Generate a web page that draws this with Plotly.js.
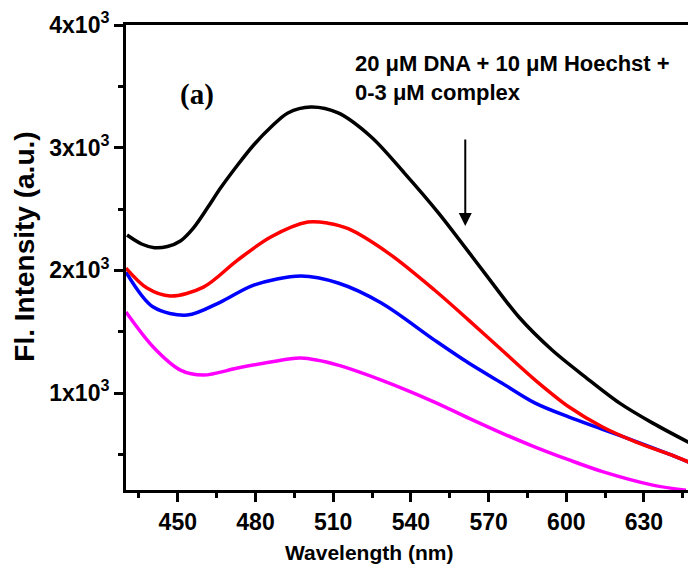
<!DOCTYPE html>
<html>
<head>
<meta charset="utf-8">
<script src="https://cdn.plot.ly/plotly-3.0.1.min.js"></script>
<style>
html,body{margin:0;padding:0;background:#fff;}
#chart{width:691px;height:569px;}
</style>
</head>
<body>
<div id="chart"></div>
<script>
// Wavelength (nm) and intensity values
const blackX = [430.4, 436, 441, 446, 451, 456, 461.4, 466.5, 473.1, 479.3, 486, 492.5, 501.4, 511.9, 524.7, 537.5, 550.7, 568.5, 581.7, 594.5, 607.4, 620.6, 633.4, 649.3];
const blackY = [2288, 2215, 2185, 2195, 2240, 2345, 2508, 2671, 2859, 3022, 3168, 3283, 3331, 3283, 3087, 2793, 2467, 1978, 1620, 1351, 1130, 918, 755, 576];

const redX = [430, 438.1, 447.1, 459.9, 473.1, 485.9, 500.2, 508, 515.8, 531.3, 549.1, 562.3, 575.1, 588, 601.1, 614, 627, 640, 649.3];
const redY = [2019, 1856, 1791, 1864, 2084, 2272, 2394, 2385, 2340, 2141, 1840, 1595, 1351, 1106, 886, 723, 600, 500, 420];

const blueX = [430, 440.5, 453.7, 466.5, 479.3, 497.5, 511.9, 528.6, 549.1, 562.3, 575.1, 588, 601.1, 614, 627, 640, 649.3];
const blueY = [1986, 1701, 1636, 1742, 1880, 1954, 1897, 1734, 1432, 1245, 1082, 918, 804, 705, 605, 500, 420];

const magX = [430, 440.5, 451, 459.9, 473.1, 485.9, 497.5, 511.9, 528.6, 549.1, 562.3, 575.1, 588, 601.1, 614, 633.4, 646.2];
const magY = [1660, 1375, 1187, 1147, 1204, 1253, 1285, 1228, 1106, 927, 796, 674, 560, 455, 360, 250, 209];

const yTickVals = [1000, 2000, 3000, 4000];
const yTickText = ['1x10<sup>3</sup>', '2x10<sup>3</sup>', '3x10<sup>3</sup>', '4x10<sup>3</sup>'];
const xTickVals = [450, 480, 510, 540, 570, 600, 630];

const mk = (x, y, c) => ({x: x, y: y, type: 'scatter', mode: 'lines',
  line: {color: c, width: 3.5, shape: 'spline', smoothing: 0.9}, hoverinfo: 'skip', showlegend: false});

const data = [
  mk(magX, magY, '#ff00ff'),
  mk(blueX, blueY, '#0000ff'),
  mk(redX, redY, '#ff0000'),
  mk(blackX, blackY, '#000000')
];

const fontFam = 'Arial, "Liberation Sans", sans-serif';
const tickFont = {family: fontFam, size: 23, color: '#000', weight: 'bold'};

const layout = {
  width: 691, height: 569,
  margin: {l: 126, r: 3, t: 25, b: 79},
  paper_bgcolor: '#ffffff', plot_bgcolor: '#ffffff',
  showlegend: false,
  xaxis: {
    range: [430, 647], showgrid: false, zeroline: false,
    showline: true, linewidth: 3, linecolor: '#000', mirror: true,
    ticks: 'outside', ticklen: 9, tickwidth: 3, tickcolor: '#000',
    tickmode: 'array', tickvals: xTickVals,
    minor: {tickmode: 'linear', tick0: 435, dtick: 30, ticks: 'outside', ticklen: 5, tickwidth: 3, tickcolor: '#000', showgrid: false},
    tickfont: tickFont
  },
  yaxis: {
    range: [210, 4000], showgrid: false, zeroline: false,
    showline: true, linewidth: 3, linecolor: '#000',
    ticks: 'outside', ticklen: 9, tickwidth: 3, tickcolor: '#000',
    tickmode: 'array', tickvals: yTickVals, ticktext: yTickText,
    minor: {tickmode: 'linear', tick0: 500, dtick: 1000, ticks: 'outside', ticklen: 5, tickwidth: 3, tickcolor: '#000', showgrid: false},
    tickfont: tickFont
  },
  annotations: [
    {xref: 'paper', yref: 'paper', x: -0.18, y: 0.523, xanchor: 'center', yanchor: 'middle', showarrow: false, textangle: -90,
     text: 'Fl. Intensity (a.u.)', font: {family: fontFam, size: 28, color: '#000', weight: 'bold'}},
    {xref: 'paper', yref: 'paper', x: 0.432, y: -0.105, xanchor: 'center', yanchor: 'top', showarrow: false,
     text: 'Wavelength (nm)', font: {family: fontFam, size: 21, color: '#000', weight: 'bold'}},
    {xref: 'paper', yref: 'paper', x: 0.404, y: 0.885, xanchor: 'left', yanchor: 'middle', showarrow: false, align: 'left',
     text: '20 μM DNA + 10 μM Hoechst +<br>0-3 μM complex', font: {family: fontFam, size: 22, color: '#000', weight: 'bold'}},
    {xref: 'paper', yref: 'paper', x: 0.126, y: 0.85, xanchor: 'center', yanchor: 'middle', showarrow: false,
     text: '(a)', font: {family: '"Liberation Serif", "Times New Roman", serif', size: 29, color: '#000', weight: 'bold'}},
    {xref: 'x', yref: 'y', axref: 'x', ayref: 'y', x: 561, y: 2361, ax: 561, ay: 3079, text: '',
     showarrow: true, arrowhead: 2, arrowsize: 1.3, arrowwidth: 2, arrowcolor: '#000'}
  ]
};

Plotly.newPlot('chart', data, layout, {staticPlot: true, displayModeBar: false});
</script>
</body>
</html>
